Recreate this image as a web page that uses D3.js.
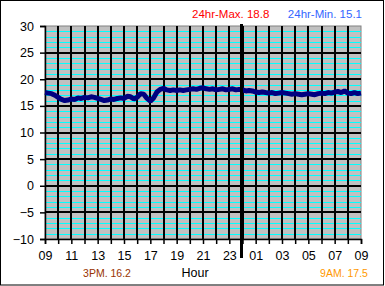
<!DOCTYPE html>
<html>
<head>
<meta charset="UTF-8">
<script src="https://cdn.jsdelivr.net/npm/d3@7/dist/d3.min.js"></script>
<style>
	body { margin: 0; background: #fff; }
	svg { display: block; }
	text { font-family: "Liberation Sans", Arial, sans-serif; }
</style>
</head>
<body>
<script>
	// hours after 09:00, every 15 minutes
	const temps = [
		17.5, 17.4, 17.3, 17.0, 16.6, 16.2, 16.0, 16.1, 16.3, 16.2, 16.5, 16.4,
		16.6, 16.5, 16.7, 16.6, 16.4, 16.2, 16.0, 16.1, 16.3, 16.2, 16.4, 16.5,
		16.4, 16.8, 16.7, 16.3, 16.6, 17.3, 17.2, 16.4, 15.9, 16.5, 17.6, 18.1,
		18.3, 18.0, 17.9, 18.0, 17.9, 18.0, 17.9, 18.0, 18.1, 18.2, 18.1, 18.3,
		18.4, 18.2, 18.1, 18.2, 18.0, 18.1, 18.2, 18.0, 18.1, 18.2, 18.0, 18.1,
		18.0, 17.8, 17.9, 17.8, 17.6, 17.5, 17.6, 17.5, 17.4, 17.5, 17.3, 17.4,
		17.5, 17.4, 17.3, 17.2, 17.3, 17.2, 17.1, 17.2, 17.3, 17.2, 17.1, 17.3,
		17.4, 17.3, 17.5, 17.4, 17.6, 17.7, 17.5, 17.8, 17.4, 17.3, 17.5, 17.3,
		17.4
	];
	const hourLabels = ['09','11','13','15','17','19','21','23','01','03','05','07','09'];
	const yTicks = [30, 25, 20, 15, 10, 5, 0, -5, -10];
	const maxText = '24hr-Max. 18.8';
	const minText = '24hr-Min. 15.1';
	const pmText = '3PM. 16.2';
	const amText = '9AM. 17.5';

	const W = 385, H = 286;
	const pLeft = 45, pRight = 361, pTop = 26, pBottom = 239;

	const x = d3.scaleLinear().domain([0, 24]).range([pLeft, pRight]);
	const y = d3.scaleLinear().domain([-10, 30]).range([pBottom, pTop]);

	const svg = d3.select('body').append('svg')
		.attr('width', W)
		.attr('height', H);

	// outer frame
	svg.append('rect')
		.attr('x', 0.5).attr('y', 0.5)
		.attr('width', W - 2).attr('height', H - 1.5)
		.attr('fill', '#fff')
		.attr('stroke', '#000');

	// plot background
	svg.append('rect')
		.attr('x', pLeft).attr('y', pTop)
		.attr('width', pRight - pLeft).attr('height', pBottom - pTop)
		.attr('fill', '#c0c0c0')
		.attr('stroke', '#808080');

	// minor cyan grid
	svg.append('g')
		.selectAll('line')
		.data(d3.range(-10, 31).filter(v => v % 5 !== 0))
		.enter().append('line')
			.attr('x1', pLeft).attr('x2', pRight)
			.attr('y1', d => Math.round(y(d)) + 0.5)
			.attr('y2', d => Math.round(y(d)) + 0.5)
			.attr('stroke', '#00ffff')
			.attr('stroke-width', 1)
			.attr('shape-rendering', 'crispEdges');

	// major black grid
	svg.append('g')
		.selectAll('line')
		.data(yTicks.filter(v => v > -10 && v < 30))
		.enter().append('line')
			.attr('x1', pLeft).attr('x2', pRight)
			.attr('y1', d => y(d)).attr('y2', d => y(d))
			.attr('stroke', '#000')
			.attr('stroke-width', 2)
			.attr('shape-rendering', 'crispEdges');

	svg.append('g')
		.selectAll('line')
		.data(d3.range(1, 24))
		.enter().append('line')
			.attr('x1', d => x(d)).attr('x2', d => x(d))
			.attr('y1', pTop).attr('y2', pBottom)
			.attr('stroke', '#000')
			.attr('stroke-width', 2)
			.attr('shape-rendering', 'crispEdges');

	// axes
	const yAxis = d3.axisLeft(y)
		.tickValues(yTicks)
		.tickSize(5)
		.tickPadding(6);

	const xAxis = d3.axisBottom(x)
		.tickValues(d3.range(0, 25))
		.tickSize(5)
		.tickPadding(7)
		.tickFormat(d => d % 2 === 0 ? hourLabels[d / 2] : '');

	const gy = svg.append('g')
		.attr('transform', `translate(${pLeft},0)`)
		.call(yAxis);
	const gx = svg.append('g')
		.attr('transform', `translate(0,${pBottom})`)
		.call(xAxis);

	[gx, gy].forEach(g => {
		g.select('.domain').attr('stroke', '#000').attr('stroke-width', 1.5);
		g.selectAll('.tick line').attr('stroke', '#000').attr('stroke-width', 1.5);
		g.selectAll('.tick text')
			.attr('fill', '#000')
			.style('font-family', '"Liberation Sans", Arial, sans-serif')
			.style('font-size', '12.5px');
	});

	// temperature trace
	const line = d3.line()
		.x((d, i) => x(i / 4))
		.y(d => y(d));

	svg.append('path')
		.datum(temps)
		.attr('d', line)
		.attr('fill', 'none')
		.attr('stroke', '#000080')
		.attr('stroke-width', 5)
		.attr('stroke-linejoin', 'bevel');

	// midnight marker
	svg.append('line')
		.attr('x1', x(15) - 1).attr('x2', x(15) - 1)
		.attr('y1', 24).attr('y2', 258)
		.attr('stroke', '#000')
		.attr('stroke-width', 3);

	// labels
	svg.append('text')
		.attr('x', 192).attr('y', 18)
		.attr('fill', '#ff0000')
		.style('font-size', '11.5px')
		.text(maxText);

	svg.append('text')
		.attr('x', 362).attr('y', 18)
		.attr('text-anchor', 'end')
		.attr('fill', '#3366ff')
		.style('font-size', '11.5px')
		.text(minText);

	svg.append('text')
		.attr('x', 195).attr('y', 276.5)
		.attr('text-anchor', 'middle')
		.attr('fill', '#000')
		.style('font-size', '12.5px')
		.text('Hour');

	svg.append('text')
		.attr('x', 107).attr('y', 276.5)
		.attr('text-anchor', 'middle')
		.attr('fill', '#993300')
		.style('font-size', '10.5px')
		.text(pmText);

	svg.append('text')
		.attr('x', 344).attr('y', 276.5)
		.attr('text-anchor', 'middle')
		.attr('fill', '#ff9900')
		.style('font-size', '10.5px')
		.text(amText);
</script>
</body>
</html>
